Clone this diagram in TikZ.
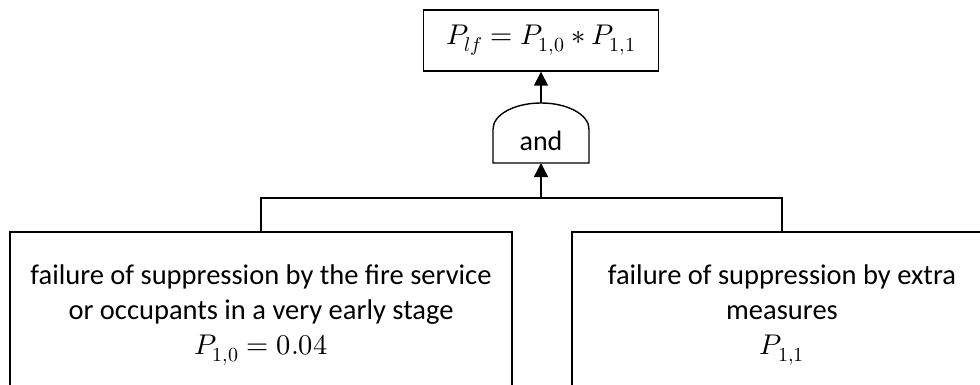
\documentclass[tikz,border=0pt]{standalone}
\usepackage{fontspec}
\usepackage{unicode-math}
\setmainfont{Carlito}
\setmathfont{Latin Modern Math}
\usetikzlibrary{arrows.meta}
\begin{document}
\begin{tikzpicture}[x=1pt,y=1pt,
  conn/.style={line width=1.4pt},
  arr/.style={conn,-{Triangle[length=14pt,width=14pt]}},
  box/.style={draw,line width=1.4pt,rectangle,inner sep=0pt,align=center,
    font=\fontsize{28.5}{35}\selectfont},
  gatetext/.style={inner sep=0pt,font=\fontsize{28}{30}\selectfont}]
\useasboundingbox (0,0) rectangle (980,-385);
\clip (0,0) rectangle (980,-385);
% top event
\node[box,minimum width=235,minimum height=61] (top) at (541,-40.5)
  {$P_{lf} = P_{1,0} * P_{1,1}$};
% AND gate
\coordinate (gtop) at (541,-103);
\coordinate (gbot) at (541,-163);
\draw[conn] (493,-163) -- (493,-129)
  arc[start angle=180,end angle=0,x radius=48,y radius=26]
  -- (589,-163) -- cycle;
\node[gatetext] (andtxt) at (541,-141) {and};
% basic events (their lower edges run past the page)
\node[box,minimum width=502,minimum height=166] (left) at (261,-315)
  {failure of suppression by the fire service\\
   or occupants in a very early stage\\
   $P_{1,0} = 0.04$};
\node[box,minimum width=420,minimum height=166] (right) at (782,-315)
  {failure of suppression by extra\\
   measures\\
   $P_{1,1}$};
% connectors
\coordinate (bus) at (541,-198);
\draw[conn] (left.north) |- (bus) -| (right.north);
\draw[arr] (bus) -- (gbot);
\draw[arr] (gtop) -- (top.south);
\end{tikzpicture}
\end{document}
